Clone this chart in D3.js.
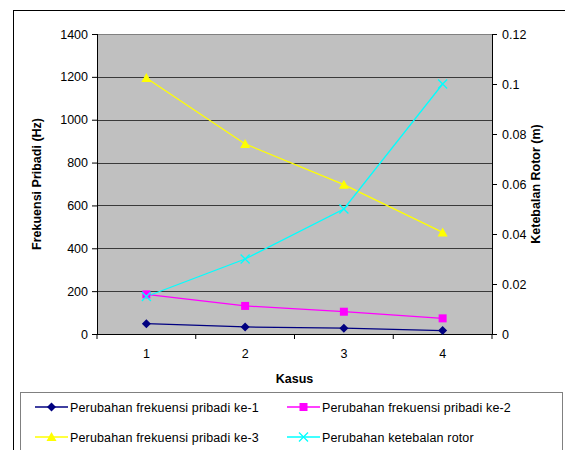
<!DOCTYPE html>
<html><head><meta charset="utf-8">
<script src="https://cdn.jsdelivr.net/npm/d3@7"></script>
<style>body{margin:0;background:#fff;} svg{display:block;font-family:"Liberation Sans",Arial,sans-serif;}</style>
</head><body>
<script>
const categories = ["1","2","3","4"];
const freq1 = [48, 33, 27, 16];
const freq2 = [185, 131, 104, 73];
const freq3 = [1195, 887, 697, 474];
const thickness = [0.015, 0.03, 0.05, 0.1];
const leftTicks = [0,200,400,600,800,1000,1200,1400];
const rightTicks = [0,0.02,0.04,0.06,0.08,0.1,0.12];
const seriesNames = ["Perubahan frekuensi pribadi ke-1","Perubahan frekuensi pribadi ke-2","Perubahan frekuensi pribadi ke-3","Perubahan ketebalan rotor"];

const W=565,H=450;
const svg=d3.select("body").append("svg").attr("width",W).attr("height",H);
const L=97,R=492,T=34,B=334;
const x=d3.scaleBand().domain(categories).range([L,R]);
const yL=d3.scaleLinear().domain([0,1400]).range([B,T]);
const yR=d3.scaleLinear().domain([0,0.12]).range([B,T]);

// outer frame
svg.append("rect").attr("x",13.5).attr("y",10.5).attr("width",700).attr("height",600).attr("fill","#fff").attr("stroke","#000").attr("stroke-width",1);

// plot area
svg.append("rect").attr("x",L).attr("y",T).attr("width",R-L).attr("height",B-T).attr("fill","#c0c0c0");
svg.append("g").selectAll("line").data(leftTicks.filter(d=>d>0)).join("line")
  .attr("x1",L).attr("x2",R).attr("y1",d=>Math.round(yL(d))+0.5).attr("y2",d=>Math.round(yL(d))+0.5)
  .attr("stroke",d=>d===1400?"#808080":"#3a3a3a").attr("stroke-width",1);

// axes
const gl=svg.append("g").attr("transform",`translate(${L},0)`).call(d3.axisLeft(yL).tickValues(leftTicks).tickSize(5).tickPadding(4).tickFormat(d3.format("d")));
const gr=svg.append("g").attr("transform",`translate(${R},0)`).call(d3.axisRight(yR).tickValues(rightTicks).tickSize(5).tickPadding(5).tickFormat(d=>d===0?"0":String(+d.toFixed(2))));
const gx=svg.append("g").attr("transform",`translate(0,${B})`).call(d3.axisBottom(x).tickSize(0).tickPadding(15));
svg.append("g").selectAll("line").data(d3.range(categories.length+1)).join("line")
  .attr("x1",i=>L+i*x.step()).attr("x2",i=>L+i*x.step()).attr("y1",B).attr("y2",B+5).attr("stroke","#000");
[gl,gr,gx].forEach(g=>{g.selectAll("text").attr("font-size",12.5).attr("fill","#000").attr("font-family","Liberation Sans, Arial, sans-serif");g.selectAll(".domain").attr("stroke","#000");g.selectAll(".tick line").attr("stroke","#000");});
gl.select(".domain").attr("d",`M0.5,${T}V${B}`);
gr.select(".domain").attr("d",`M0.5,${T}V${B}`);
gx.select(".domain").attr("d",`M${L},0.5H${R}`);

// titles
svg.append("text").attr("transform",`translate(41,${(T+B)/2}) rotate(-90)`).attr("text-anchor","middle").attr("font-size",12.5).attr("font-weight","bold").text("Frekuensi Pribadi (Hz)");
svg.append("text").attr("transform",`translate(540,${(T+B)/2}) rotate(-90)`).attr("text-anchor","middle").attr("font-size",12.5).attr("font-weight","bold").text("Ketebalan Rotor (m)");
svg.append("text").attr("x",(L+R)/2).attr("y",383).attr("text-anchor","middle").attr("font-size",12.5).attr("font-weight","bold").text("Kasus");

// series
const series=[
 {vals:freq1,y:yL,color:"#000080",marker:"diamond"},
 {vals:freq2,y:yL,color:"#ff00ff",marker:"square"},
 {vals:freq3,y:yL,color:"#ffff00",marker:"triangle"},
 {vals:thickness,y:yR,color:"#00ffff",marker:"x"}
];
function drawMarker(g,type,color,cx,cy){
  if(type==="diamond") g.append("path").attr("d",`M${cx},${cy-4.5}L${cx+4.5},${cy}L${cx},${cy+4.5}L${cx-4.5},${cy}Z`).attr("fill",color);
  else if(type==="square") g.append("rect").attr("x",cx-4).attr("y",cy-4).attr("width",8).attr("height",8).attr("fill",color);
  else if(type==="triangle") g.append("path").attr("d",`M${cx},${cy-5}L${cx+5},${cy+4}L${cx-5},${cy+4}Z`).attr("fill",color);
  else if(type==="x") g.append("path").attr("d",`M${cx-4.5},${cy-4.5}L${cx+4.5},${cy+4.5}M${cx-4.5},${cy+4.5}L${cx+4.5},${cy-4.5}`).attr("stroke",color).attr("stroke-width",1.3).attr("fill","none");
}
series.forEach(s=>{
  const line=d3.line().x((d,i)=>x(categories[i])+x.bandwidth()/2).y(d=>s.y(d));
  svg.append("path").datum(s.vals).attr("d",line).attr("fill","none").attr("stroke",s.color).attr("stroke-width",1.3);
});
series.forEach(s=>{
  const g=svg.append("g");
  s.vals.forEach((v,i)=>drawMarker(g,s.marker,s.color,x(categories[i])+x.bandwidth()/2,s.y(v)));
});

// legend
svg.append("rect").attr("x",20.5).attr("y",392.5).attr("width",542).attr("height",80).attr("fill","#fff").attr("stroke","#808080");
const legPos=[[35,407],[287,407],[35,437],[287,437]];
series.forEach((s,i)=>{
  const [lx,ly]=legPos[i];
  const g=svg.append("g");
  g.append("line").attr("x1",lx).attr("x2",lx+33).attr("y1",ly).attr("y2",ly).attr("stroke",s.color).attr("stroke-width",1.3);
  drawMarker(g,s.marker,s.color,lx+16.5,ly);
  g.append("text").attr("x",lx+35).attr("y",ly+4.5).attr("font-size",12.5).attr("letter-spacing",0.15).text(seriesNames[i]);
});
</script>
</body></html>
